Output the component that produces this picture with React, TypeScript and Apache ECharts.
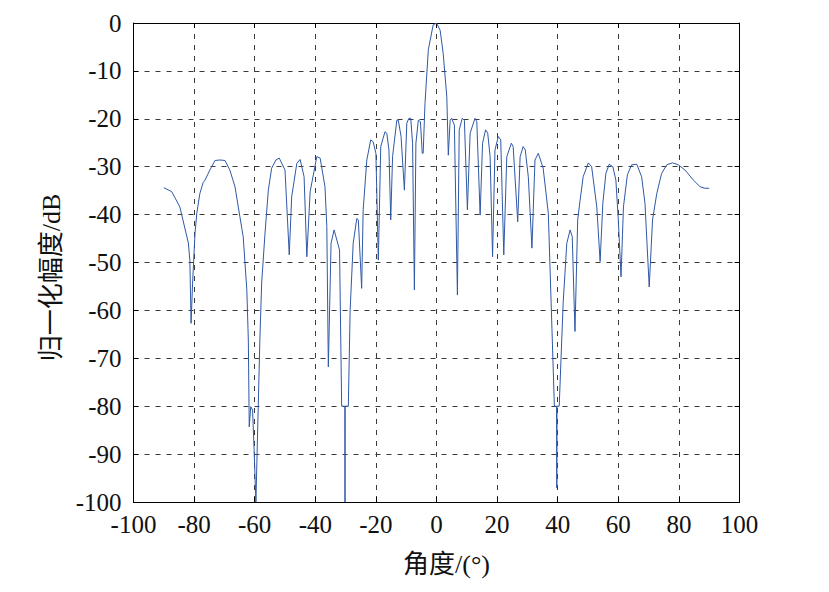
import React, { useEffect, useRef } from "react";
import * as echarts from "echarts";

const angleDeg: number[] = [
  -90, -87.4, -84.7, -81.9, -81.4, -81.0, -80.5, -79.7, -79.1, -78.1, -77.0, -76.4,
  -74.8, -73.1, -71.5, -69.8, -68.2, -66.5, -64.9, -63.8, -62.6, -62.1, -61.8, -61.3,
  -60.7, -60.2, -59.6, -58.3, -57.7, -56.6, -55.5, -54.4, -53.0, -51.9, -50.0, -48.6,
  -47.8, -46.1, -45.0, -43.7, -42.8, -41.7, -39.5, -38.4, -36.8, -36.2, -35.7, -34.8,
  -33.8, -32.0, -31.3, -30.25, -30.2, -30.15, -29.1, -28.5, -27.5, -26.3, -25.8, -24.7,
  -24.2, -23.0, -21.7, -20.9, -20.0, -19.2, -18.4, -17.0, -16.4, -15.7, -15.1, -14.5,
  -13.1, -12.6, -11.7, -10.6, -9.8, -9.1, -8.5, -7.9, -7.3, -6.8, -6.0, -5.3,
  -4.7, -4.4, -3.8, -2.7, -1.1, 0, 1.2, 2.2, 3.4, 3.9, 4.5, 5.0,
  5.9, 6.9, 7.5, 8.5, 9.2, 10.2, 11.1, 12.7, 13.3, 14.4, 15.2, 16.2,
  16.9, 17.7, 18.5, 19.3, 20.4, 21.2, 22.2, 23.2, 24.7, 25.3, 26.8, 27.6,
  28.6, 29.3, 30.3, 31.5, 32.5, 33.6, 35.2, 36.9, 38.5, 38.9, 39.65, 39.7,
  39.75, 40.5, 41.8, 43.0, 44.1, 44.8, 45.7, 46.6, 47.4, 48.4, 50.1, 51.2,
  52.9, 54.0, 54.9, 55.9, 57.0, 58.2, 59.2, 60.0, 60.9, 61.7, 63.0, 64.4,
  66.1, 67.7, 68.8, 70.2, 71.3, 72.7, 74.3, 76.0, 77.9, 79.8, 82.0, 84.8,
  87.0, 88.6, 90.0,
];

const gainDb: number[] = [
  -34.4, -35.2, -38.4, -45.9, -49.5, -62.7, -54.3, -43.9, -39.7, -35.6, -33.3, -32.8,
  -30.7, -28.7, -28.6, -28.7, -30.7, -34.2, -40.4, -44.6, -55.7, -66.2, -84.3, -80.1,
  -80.8, -89.1, -100, -66.2, -54.3, -43.9, -34.9, -30.3, -28.6, -28.2, -30.7, -48.4,
  -36.3, -29.3, -28.5, -32.1, -48.8, -35.2, -27.9, -28.2, -34.2, -42.5, -71.8, -46,
  -43.2, -47.4, -80, -80, -100, -80, -80, -59.9, -46, -40.8, -41.1, -55.4,
  -39, -28.6, -24.4, -24.8, -27.2, -49.5, -25.8, -22.7, -23, -26.5, -41.1, -27.9,
  -20.3, -20.3, -23.7, -34.9, -20.9, -19.9, -19.9, -25.1, -55.7, -25.1, -20.3, -20.6,
  -27.2, -27.2, -16.8, -5.6, -0.4, 0, -1.5, -6.3, -15.4, -27.6, -20.3, -19.9,
  -21.3, -56.8, -22.3, -19.9, -20.3, -39, -23, -19.9, -20.6, -40.1, -25.1, -22.3,
  -23, -27.9, -48.8, -26.5, -23.7, -24.4, -48.4, -27.9, -25.1, -25.8, -41.5, -27.9,
  -25.8, -26.5, -32.1, -47, -28.6, -27.2, -30.3, -39.7, -71.8, -80, -80, -97.1,
  -80, -80, -58.5, -46, -43.2, -44.6, -64.4, -41.1, -37, -32.1, -29.2, -30,
  -38.4, -49.8, -37.6, -31.4, -29.5, -30, -32.8, -41.1, -53, -38.4, -31.7, -29.6,
  -29.5, -32.1, -37.6, -55.1, -41.1, -35.6, -31.4, -29.6, -29.2, -29.6, -30.7, -32.8,
  -34.2, -34.5, -34.5,
];

const xTickMin = -100;
const xTickMax = 100;
const xTickStep = 20;
const yTickMin = -100;
const yTickMax = 0;
const yTickStep = 10;

const xTitle = "角度/(°)";
const yTitle = "归一化幅度/dB";

const FONT = "'Liberation Serif', 'Noto Sans CJK SC', serif";

export default function App() {
  const ref = useRef<HTMLDivElement>(null);

  useEffect(() => {
    if (!ref.current) return;
    const chart = echarts.init(ref.current, null, { renderer: "svg" });
    const data = angleDeg.map((a, i) => [a, gainDb[i]]);
    const frame = { show: true, onZero: false, lineStyle: { color: "#000", width: 1 } };
    const tick = { show: true, inside: true, length: 5, lineStyle: { color: "#000" } };
    const split = {
      show: true,
      lineStyle: { color: "#3a3a3a", width: 1, type: [5, 6] as any },
    };
    chart.setOption({
      animation: false,
      backgroundColor: "#fff",
      grid: { left: 133.5, top: 23, right: 89.5, bottom: 90, containLabel: false },
      xAxis: [
        {
          type: "value",
          position: "bottom",
          min: xTickMin,
          max: xTickMax,
          interval: xTickStep,
          axisLine: frame,
          axisTick: tick,
          axisLabel: { fontSize: 25, fontFamily: FONT, color: "#111", margin: 10 },
          splitLine: split,
          name: xTitle,
          nameLocation: "middle",
          nameGap: 49,
          nameTextStyle: {
            fontSize: 26,
            fontFamily: FONT,
            color: "#111",
            padding: [0, 0, 0, 20],
          },
        },
        {
          type: "value",
          position: "top",
          min: xTickMin,
          max: xTickMax,
          interval: xTickStep,
          axisLine: frame,
          axisTick: tick,
          axisLabel: { show: false },
          splitLine: { show: false },
        },
      ],
      yAxis: [
        {
          type: "value",
          position: "left",
          min: yTickMin,
          max: yTickMax,
          interval: yTickStep,
          axisLine: frame,
          axisTick: tick,
          axisLabel: { fontSize: 25, fontFamily: FONT, color: "#111", margin: 12 },
          splitLine: split,
          name: yTitle,
          nameLocation: "middle",
          nameRotate: 90,
          nameGap: 60,
          nameTextStyle: {
            fontSize: 26,
            fontFamily: FONT,
            color: "#111",
            padding: [0, 30, 0, 0],
          },
        },
        {
          type: "value",
          position: "right",
          min: yTickMin,
          max: yTickMax,
          interval: yTickStep,
          axisLine: frame,
          axisTick: tick,
          axisLabel: { show: false },
          splitLine: { show: false },
        },
      ],
      series: [
        {
          type: "line",
          xAxisIndex: 0,
          yAxisIndex: 0,
          data,
          showSymbol: false,
          symbol: "none",
          clip: true,
          lineStyle: { color: "#2f58a6", width: 1 },
        },
      ],
    });
    return () => chart.dispose();
  }, []);

  return (
    <div
      ref={ref}
      style={{ position: "fixed", left: 0, top: 0, width: 829, height: 592, background: "#fff" }}
    />
  );
}
